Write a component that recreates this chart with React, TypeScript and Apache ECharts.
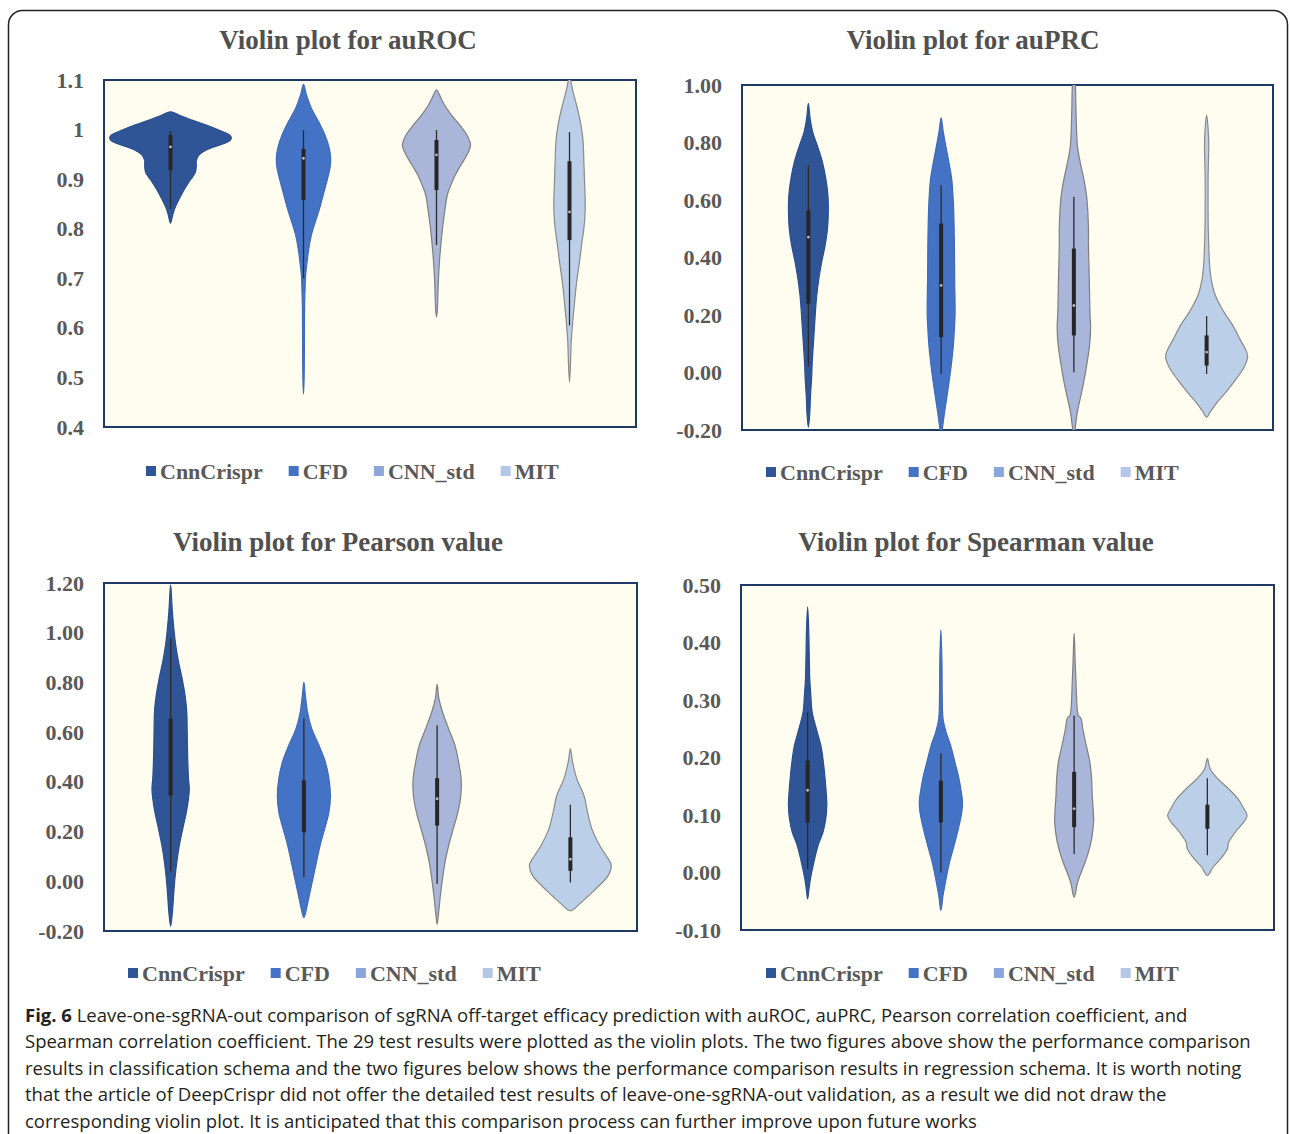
import React, { useEffect, useRef } from "react";
import * as echarts from "echarts";

// ---------- data ----------
const categories = ["CnnCrispr", "CFD", "CNN_std", "MIT"];

// violin outlines: [value, half-width as a fraction of the category band]
const aurocCnnCrispr = [[1.036,0],[1.029,0.067],[1.019,0.161],[1.009,0.269],[0.999,0.363],[0.989,0.444],[0.982,0.457],[0.975,0.43],[0.967,0.35],[0.959,0.269],[0.949,0.215],[0.938,0.194],[0.928,0.194],[0.915,0.188],[0.905,0.167],[0.895,0.14],[0.881,0.108],[0.868,0.081],[0.854,0.054],[0.841,0.032],[0.827,0.016],[0.811,0]];
const aurocCFD = [[1.091,0],[1.07,0.022],[1.043,0.059],[1.016,0.113],[0.989,0.161],[0.962,0.194],[0.942,0.204],[0.922,0.199],[0.895,0.175],[0.868,0.148],[0.841,0.121],[0.814,0.089],[0.787,0.059],[0.76,0.04],[0.733,0.027],[0.706,0.016],[0.673,0.011],[0.639,0.008],[0.572,0.007],[0.504,0.005],[0.467,0]];
const aurocCNNstd = [[1.08,0],[1.07,0.022],[1.05,0.059],[1.029,0.113],[1.009,0.175],[0.989,0.229],[0.969,0.256],[0.949,0.229],[0.928,0.183],[0.908,0.14],[0.888,0.108],[0.868,0.081],[0.841,0.065],[0.807,0.048],[0.774,0.035],[0.74,0.024],[0.706,0.016],[0.673,0.011],[0.639,0.007],[0.622,0]];
const aurocMIT = [[1.11,0],[1.1,0.008],[1.076,0.027],[1.043,0.059],[1.009,0.086],[0.976,0.102],[0.935,0.108],[0.895,0.113],[0.854,0.118],[0.827,0.116],[0.8,0.108],[0.774,0.094],[0.733,0.075],[0.693,0.054],[0.652,0.038],[0.612,0.024],[0.572,0.013],[0.531,0.008],[0.491,0]];

const auprcCnnCrispr = [[0.936,0],[0.884,0.013],[0.837,0.032],[0.791,0.066],[0.733,0.105],[0.675,0.131],[0.617,0.147],[0.559,0.15],[0.5,0.144],[0.442,0.126],[0.384,0.1],[0.326,0.079],[0.268,0.063],[0.21,0.053],[0.152,0.045],[0.094,0.037],[0.036,0.029],[-0.022,0.024],[-0.08,0.016],[-0.138,0.011],[-0.191,0]];
const auprcCFD = [[0.886,0],[0.837,0.016],[0.791,0.034],[0.733,0.058],[0.675,0.079],[0.617,0.089],[0.559,0.095],[0.442,0.1],[0.326,0.102],[0.21,0.105],[0.152,0.1],[0.094,0.092],[0.036,0.079],[-0.022,0.063],[-0.08,0.045],[-0.138,0.026],[-0.2,0.008],[-0.22,0]];
const auprcCNNstd = [[1.02,0],[1.0,0.011],[0.907,0.016],[0.791,0.026],[0.733,0.047],[0.675,0.074],[0.617,0.095],[0.559,0.105],[0.5,0.11],[0.442,0.11],[0.326,0.116],[0.21,0.121],[0.152,0.126],[0.094,0.118],[0.036,0.1],[-0.022,0.079],[-0.08,0.053],[-0.138,0.026],[-0.2,0.008],[-0.22,0]];
const auprcMIT = [[0.895,0],[0.849,0.011],[0.791,0.016],[0.721,0.013],[0.675,0.011],[0.559,0.011],[0.489,0.013],[0.384,0.021],[0.326,0.034],[0.268,0.066],[0.21,0.131],[0.164,0.197],[0.117,0.25],[0.071,0.302],[0.047,0.307],[0.013,0.276],[-0.022,0.223],[-0.069,0.144],[-0.104,0.079],[-0.138,0.026],[-0.156,0]];

const pearsonCnnCrispr = [[1.193,0],[1.086,0.013],[1.018,0.024],[0.951,0.038],[0.884,0.059],[0.816,0.086],[0.749,0.108],[0.682,0.121],[0.614,0.124],[0.547,0.126],[0.48,0.129],[0.413,0.134],[0.372,0.14],[0.332,0.134],[0.278,0.118],[0.211,0.091],[0.143,0.065],[0.076,0.046],[0.009,0.032],[-0.059,0.022],[-0.126,0.013],[-0.18,0]];
const pearsonCFD = [[0.8,0],[0.749,0.011],[0.682,0.027],[0.614,0.059],[0.547,0.113],[0.48,0.161],[0.413,0.188],[0.345,0.199],[0.278,0.188],[0.211,0.156],[0.143,0.121],[0.076,0.094],[0.009,0.067],[-0.059,0.04],[-0.112,0.019],[-0.146,0]];
const pearsonCNNstd = [[0.792,0],[0.736,0.013],[0.682,0.04],[0.614,0.086],[0.547,0.134],[0.48,0.161],[0.413,0.18],[0.345,0.178],[0.278,0.156],[0.211,0.121],[0.143,0.086],[0.076,0.059],[0.009,0.04],[-0.059,0.024],[-0.126,0.011],[-0.173,0]];
const pearsonMIT = [[0.534,0],[0.48,0.016],[0.413,0.048],[0.345,0.102],[0.278,0.129],[0.211,0.161],[0.143,0.221],[0.103,0.269],[0.063,0.307],[0.022,0.282],[-0.018,0.215],[-0.059,0.134],[-0.092,0.067],[-0.119,0]];

const spearmanCnnCrispr = [[0.462,0],[0.424,0.008],[0.366,0.013],[0.337,0.016],[0.308,0.024],[0.279,0.034],[0.25,0.065],[0.221,0.099],[0.192,0.118],[0.163,0.131],[0.134,0.141],[0.117,0.144],[0.093,0.136],[0.07,0.115],[0.047,0.078],[0.018,0.047],[-0.011,0.021],[-0.029,0.01],[-0.046,0]];
const spearmanCFD = [[0.422,0],[0.366,0.008],[0.308,0.01],[0.268,0.016],[0.244,0.039],[0.221,0.073],[0.192,0.105],[0.163,0.136],[0.134,0.157],[0.122,0.162],[0.105,0.157],[0.076,0.131],[0.047,0.099],[0.018,0.065],[-0.011,0.039],[-0.04,0.016],[-0.066,0]];
const spearmanCNNstd = [[0.416,0],[0.366,0.008],[0.32,0.016],[0.291,0.021],[0.273,0.031],[0.268,0.052],[0.25,0.065],[0.221,0.091],[0.192,0.118],[0.163,0.131],[0.134,0.136],[0.105,0.144],[0.088,0.146],[0.058,0.131],[0.029,0.099],[0.006,0.063],[-0.017,0.026],[-0.043,0]];
const spearmanMIT = [[0.198,0],[0.18,0.021],[0.163,0.078],[0.146,0.157],[0.128,0.23],[0.111,0.274],[0.099,0.298],[0.088,0.274],[0.07,0.209],[0.053,0.16],[0.041,0.15],[0.024,0.1],[0.01,0.045],[-0.005,0]];

// box stats: [lower whisker, Q1, median, Q3, upper whisker]
const aurocBoxes = [[0.84,0.918,0.965,0.989,0.997],[0.7,0.858,0.942,0.961,0.999],[0.767,0.878,0.949,0.979,0.999],[0.605,0.777,0.834,0.936,0.995]];
const auprcBoxes = [[0.02,0.239,0.471,0.564,0.72],[-0.005,0.123,0.303,0.518,0.651],[0.001,0.129,0.233,0.431,0.611],[-0.005,0.024,0.071,0.129,0.196]];
const pearsonBoxes = [[0.04,0.345,0.413,0.655,0.98],[0.016,0.197,0.318,0.406,0.655],[-0.011,0.224,0.332,0.415,0.628],[-0.005,0.042,0.089,0.177,0.308]];
const spearmanBoxes = [[0.006,0.087,0.143,0.195,0.279],[0.0,0.087,0.131,0.16,0.207],[0.032,0.079,0.111,0.175,0.273],[0.03,0.076,0.096,0.118,0.164]];

// y-axis ticks: [min, max, interval]
const aurocTicks = [0.4, 1.1, 0.1];
const auprcTicks = [-0.2, 1.0, 0.2];
const pearsonTicks = [-0.2, 1.2, 0.2];
const spearmanTicks = [-0.1, 0.5, 0.1];
const tickDecimals = [-1, 2, 2, 2];

const titles = [
  "Violin plot for auROC",
  "Violin plot for auPRC",
  "Violin plot for Pearson value",
  "Violin plot for Spearman value",
];

const captionLines = [
  "{b|Fig. 6} Leave-one-sgRNA-out comparison of sgRNA off-target efficacy prediction with auROC, auPRC, Pearson correlation coefficient, and",
  "Spearman correlation coefficient. The 29 test results were plotted as the violin plots. The two figures above show the performance comparison",
  "results in classification schema and the two figures below shows the performance comparison results in regression schema. It is worth noting",
  "that the article of DeepCrispr did not offer the detailed test results of leave-one-sgRNA-out validation, as a result we did not draw the",
  "corresponding violin plot. It is anticipated that this comparison process can further improve upon future works",
];

// ---------- styling / layout ----------
const legendColors = ["#2F5597", "#4472C4", "#8CA5DA", "#B4C7E7"];
const violinFills = ["#2F5597", "#4472C4", "#A9B5D9", "#BCCFE8"];
const violinStrokes = ["#2B4F8E", "#3F6BB8", "#7F7F7F", "#8A8A8A"];

const panelProfiles = [
  [aurocCnnCrispr, aurocCFD, aurocCNNstd, aurocMIT],
  [auprcCnnCrispr, auprcCFD, auprcCNNstd, auprcMIT],
  [pearsonCnnCrispr, pearsonCFD, pearsonCNNstd, pearsonMIT],
  [spearmanCnnCrispr, spearmanCFD, spearmanCNNstd, spearmanMIT],
];
const panelBoxes = [aurocBoxes, auprcBoxes, pearsonBoxes, spearmanBoxes];
const panelTicks = [aurocTicks, auprcTicks, pearsonTicks, spearmanTicks];

const gridRects = [
  { left: 104, top: 80, width: 532, height: 347 },
  { left: 742, top: 85, width: 531, height: 345 },
  { left: 104, top: 583, width: 533, height: 348 },
  { left: 741, top: 585, width: 533, height: 345 },
];
const titlePos = [[348, 40], [973, 40], [338, 542], [976, 542]];
const legendPos = [[146, 460], [766, 461], [128, 962], [766, 962]];

const SERIF = '"Liberation Serif", "Times New Roman", serif';
const SANS = '"Open Sans", "Noto Sans", sans-serif';
const GREY = "#595959";

function makeRenderItem(profile: number[][], box: number[], ci: number) {
  return (_params: any, api: any) => {
    const bw = api.size([1, 0])[0];
    const right = profile.map(([v, w]) => {
      const p = api.coord([ci, v]);
      return [p[0] + w * bw, p[1]];
    });
    const leftPts: number[][] = [];
    for (let k = profile.length - 1; k >= 0; k--) {
      const [v, w] = profile[k];
      if (w === 0) continue;
      const p = api.coord([ci, v]);
      leftPts.push([p[0] - w * bw, p[1]]);
    }
    const pts = right.concat(leftPts);
    const cx = api.coord([ci, box[2]])[0];
    const yLo = api.coord([ci, box[0]])[1];
    const yQ1 = api.coord([ci, box[1]])[1];
    const yMed = api.coord([ci, box[2]])[1];
    const yQ3 = api.coord([ci, box[3]])[1];
    const yHi = api.coord([ci, box[4]])[1];
    return {
      type: "group",
      children: [
        {
          type: "polygon",
          shape: { points: pts, smooth: 0.35 },
          style: { fill: violinFills[ci], stroke: violinStrokes[ci], lineWidth: 1.2 },
        },
        {
          type: "line",
          shape: { x1: cx, y1: yHi, x2: cx, y2: yLo },
          style: { stroke: "#2b2b2b", lineWidth: 1.3 },
        },
        {
          type: "rect",
          shape: { x: cx - 2, y: yQ3, width: 4, height: yQ1 - yQ3 },
          style: { fill: "#262626" },
        },
        {
          type: "circle",
          shape: { cx, cy: yMed, r: 1.4 },
          style: { fill: "#BFBFBF" },
        },
      ],
    };
  };
}

function buildOption() {
  const grid = gridRects.map((g) => ({
    ...g,
    show: true,
    backgroundColor: "#FFFDEF",
    borderColor: "#1F3864",
    borderWidth: 2,
    containLabel: false,
  }));
  const xAxis = gridRects.map((_, p) => ({
    type: "category",
    gridIndex: p,
    data: categories,
    axisLine: { show: false },
    axisTick: { show: false },
    axisLabel: { show: false },
    splitLine: { show: false },
  }));
  const yAxis = panelTicks.map((t, p) => ({
    type: "value",
    gridIndex: p,
    min: t[0],
    max: t[1],
    interval: t[2],
    axisLine: { show: false },
    axisTick: { show: false },
    splitLine: { show: false },
    axisLabel: {
      margin: 20,
      fontFamily: SERIF,
      fontWeight: "bold",
      fontSize: 22,
      color: GREY,
      formatter: (v: number) =>
        tickDecimals[p] < 0 ? String(Math.round(v * 10) / 10) : v.toFixed(tickDecimals[p]),
    },
  }));
  const legend = legendPos.map(([x, y]) => ({
    left: x,
    top: y,
    padding: 0,
    itemWidth: 10,
    itemHeight: 10,
    itemGap: 26,
    icon: "rect",
    selectedMode: false,
    data: categories,
    textStyle: { fontFamily: SERIF, fontWeight: "bold", fontSize: 22, color: GREY, padding: [0, 0, 0, -1] },
  }));
  const series: any[] = [];
  panelProfiles.forEach((profiles, p) => {
    profiles.forEach((prof, ci) => {
      series.push({
        type: "custom",
        name: categories[ci],
        xAxisIndex: p,
        yAxisIndex: p,
        clip: true,
        itemStyle: { color: legendColors[ci] },
        data: [[ci, panelBoxes[p][ci][2]]],
        renderItem: makeRenderItem(prof, panelBoxes[p][ci], ci),
      });
    });
  });
  const graphic: any[] = [
    {
      type: "rect",
      shape: { x: 8.5, y: 10.5, width: 1279, height: 1200, r: 14 },
      style: { fill: "none", stroke: "#222", lineWidth: 1.5 },
      z: 0,
    },
  ];
  titles.forEach((t, p) => {
    graphic.push({
      type: "text",
      x: titlePos[p][0],
      y: titlePos[p][1],
      style: {
        text: t,
        align: "center",
        verticalAlign: "middle",
        fontFamily: SERIF,
        fontWeight: "bold",
        fontSize: 27,
        fill: "#505050",
      },
    });
  });
  captionLines.forEach((line, i) => {
    graphic.push({
      type: "text",
      x: 25,
      y: 1014 + i * 26.5,
      style: {
        text: line,
        align: "left",
        verticalAlign: "middle",
        fontFamily: SANS,
        fontSize: 18.5,
        fill: "#231F20",
        rich: {
          b: {
            fontFamily: SANS,
            fontWeight: "bold",
            fontSize: 18.5,
            fill: "#231F20",
          },
        },
      },
    });
  });
  return { animation: false, backgroundColor: "#ffffff", grid, xAxis, yAxis, legend, series, graphic };
}

export default function App() {
  const ref = useRef<HTMLDivElement>(null);
  useEffect(() => {
    if (!ref.current) return;
    const chart = echarts.init(ref.current, undefined, { renderer: "svg" });
    chart.setOption(buildOption() as any);
    return () => chart.dispose();
  }, []);
  return (
    <div
      ref={ref}
      style={{ position: "absolute", left: 0, top: 0, width: 1290, height: 1134 }}
    />
  );
}
